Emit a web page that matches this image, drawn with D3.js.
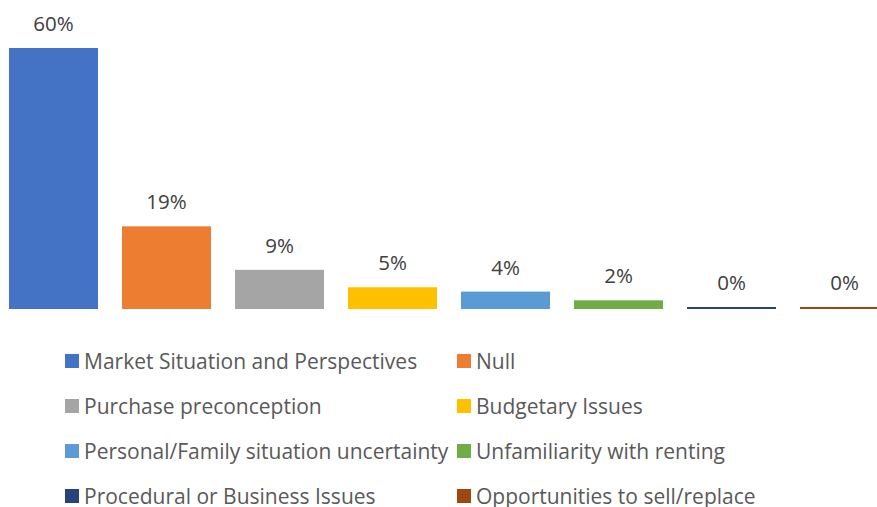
<!DOCTYPE html>
<html>
<head>
<meta charset="utf-8">
<script src="https://cdn.jsdelivr.net/npm/d3@7/dist/d3.min.js"></script>
<style>
  html, body { margin: 0; padding: 0; background: #fff; }
  svg { display: block; font-family: "Open Sans", "Noto Sans", sans-serif; }
</style>
</head>
<body>
<svg id="chart" width="877" height="507"></svg>
<script>
// Reasons cited, share of respondents (%)
const categories = [
  "Market Situation and Perspectives",
  "Null",
  "Purchase preconception",
  "Budgetary Issues",
  "Personal/Family situation uncertainty",
  "Unfamiliarity with renting",
  "Procedural or Business Issues",
  "Opportunities to sell/replace"
];
const values = [60, 19, 9, 5, 4, 2, 0, 0];
const colors = ["#4472C4", "#ED7D31", "#A5A5A5", "#FFC000", "#5B9BD5", "#70AD47", "#264478", "#9E480E"];

const svg = d3.select("#chart");

const x = d3.scaleBand()
  .domain(categories)
  .range([-3, 901])
  .paddingInner(24 / 113)
  .paddingOuter(12 / 113);

const y = d3.scaleLinear().domain([0, 60]).range([309, 48]);

const color = d3.scaleOrdinal().domain(categories).range(colors);

const data = categories.map((c, i) => ({ cat: c, value: values[i] }));

// Bars; zero-valued bars keep a 2px sliver so they still show as a line
const barH = d => Math.max(y(0) - y(d.value), 2);
svg.append("g").selectAll("rect")
  .data(data)
  .join("rect")
  .attr("x", d => x(d.cat))
  .attr("width", x.bandwidth())
  .attr("y", d => y(0) - barH(d))
  .attr("height", barH)
  .attr("fill", d => color(d.cat));

// Value labels
svg.append("g").selectAll("text")
  .data(data)
  .join("text")
  .attr("x", d => x(d.cat) + x.bandwidth() / 2)
  .attr("y", d => y(0) - barH(d) - 17)
  .attr("text-anchor", "middle")
  .attr("fill", "#404040")
  .attr("font-size", 20.5)
  .text(d => d.value + "%");

// Legend: two columns, four rows
const legend = svg.append("g");
const colX = [65, 457];
const rowY = [361, 406, 451, 496];
const items = legend.selectAll("g")
  .data(categories)
  .join("g")
  .attr("transform", (d, i) => `translate(${colX[i % 2]},${rowY[Math.floor(i / 2)]})`);

items.append("rect")
  .attr("x", 0)
  .attr("y", -7)
  .attr("width", 14)
  .attr("height", 14)
  .attr("fill", d => color(d));

items.append("text")
  .attr("x", 19)
  .attr("y", 0)
  .attr("dy", "0.36em")
  .attr("fill", "#595959")
  .attr("font-size", 21)
  .text(d => d);
</script>
</body>
</html>
